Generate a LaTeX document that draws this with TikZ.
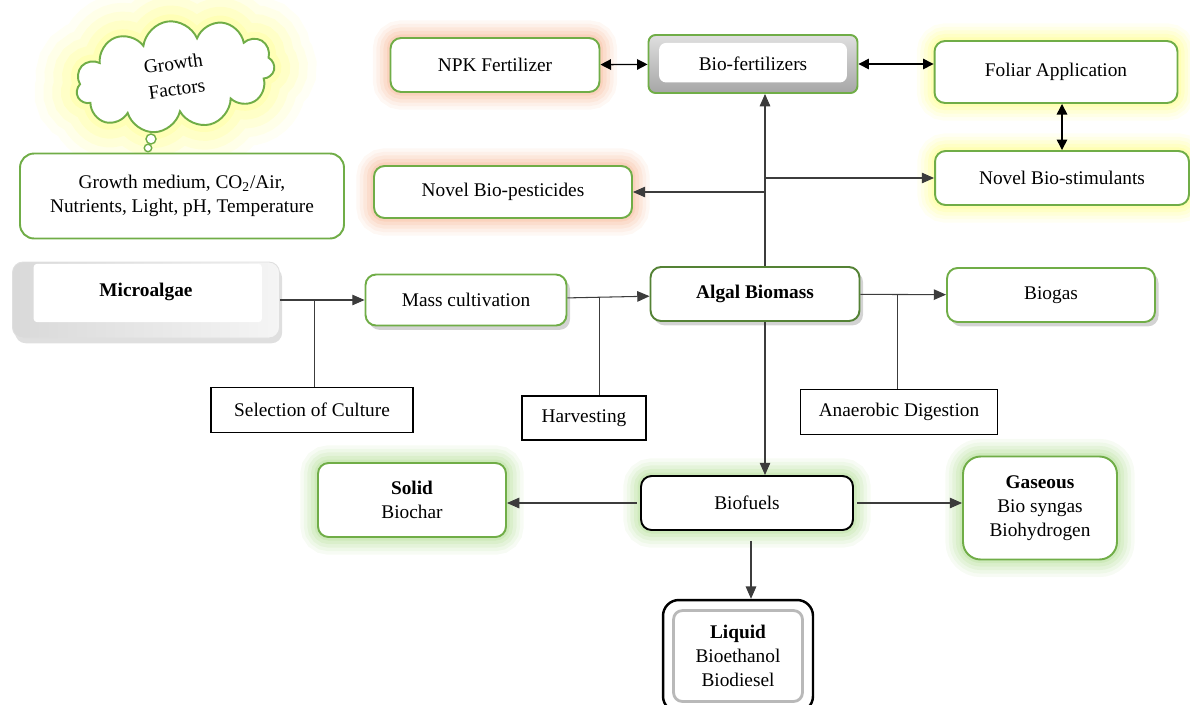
\documentclass[tikz,border=0pt]{standalone}
\usepackage{fontspec}
\setmainfont{Liberation Serif}
\usetikzlibrary{arrows.meta,positioning,shapes.symbols,shadows,calc}
\definecolor{leafgreen}{RGB}{112,173,71}
\definecolor{glowyellow}{RGB}{255,255,80}
\definecolor{gloworange}{RGB}{244,150,100}
\definecolor{glowgreen}{RGB}{140,205,95}
\definecolor{linegray}{RGB}{60,60,60}

\begin{document}
\begin{tikzpicture}[
    x=0.02cm, y=-0.02cm,
    every node/.style={font=\fontsize{11pt}{13.6pt}\selectfont},
    gbox/.style={draw=leafgreen, line width=1.1pt, rounded corners=6pt, fill=white, align=center},
    sbox/.style={gbox, drop shadow={opacity=0.35, shadow xshift=2pt, shadow yshift=-2.5pt}},
    tbox/.style={draw=black, line width=0.6pt, fill=white, align=center},
    glow/.style={preaction={draw=#1, line width=20pt, draw opacity=0.07},
                 preaction={draw=#1, line width=16pt, draw opacity=0.08},
                 preaction={draw=#1, line width=12pt, draw opacity=0.1},
                 preaction={draw=#1, line width=8pt, draw opacity=0.12},
                 preaction={draw=#1, line width=4pt, draw opacity=0.15}},
    bigglow/.style={preaction={draw=#1, line width=48pt, draw opacity=0.06},
                    preaction={draw=#1, line width=38pt, draw opacity=0.08},
                    preaction={draw=#1, line width=28pt, draw opacity=0.1},
                    preaction={draw=#1, line width=18pt, draw opacity=0.12},
                    preaction={draw=#1, line width=8pt, draw opacity=0.15}},
    btn/.style={draw=leafgreen, line width=1.1pt, rounded corners=4pt, top color=gray!25, bottom color=gray!70, align=center,
                path picture={\fill[white] ($(path picture bounding box.south west)+(6pt,6pt)$) rectangle ($(path picture bounding box.north east)+(-6pt,-4.5pt)$);}},
    bevel/.style={draw=gray!25, line width=0.5pt, rounded corners=6pt, left color=gray!30, right color=gray!8, align=center,
                  drop shadow={opacity=0.25, shadow xshift=1.5pt, shadow yshift=-3pt},
                  path picture={\fill[white, rounded corners=2pt] ($(path picture bounding box.south west)+(12pt,9pt)$) rectangle ($(path picture bounding box.north east)+(-10pt,-1pt)$);}},
    dbox/.style={draw=black, line width=1.4pt, rounded corners=9pt, fill=white, align=center,
                 path picture={\draw[gray!55, line width=1.6pt, rounded corners=5pt] ($(path picture bounding box.south west)+(6pt,6pt)$) rectangle ($(path picture bounding box.north east)+(-6pt,-6pt)$);}},
    arr/.style={-{Triangle[length=7pt,width=6pt]}, draw=linegray, line width=0.6pt},
    dbl/.style={{Triangle[length=6pt,width=6pt]}-{Triangle[length=6pt,width=6pt]}, line width=0.8pt},
    feed/.style={draw=linegray, line width=0.6pt}
  ]
  \useasboundingbox (0,0) rectangle (1190,704);

  % growth factors
  \node[cloud, cloud puffs=11, aspect=1.7, draw=leafgreen, line width=1.1pt, fill=white, minimum width=4cm, minimum height=2.2cm, rotate=8, align=center, bigglow=glowyellow] (gf) at (175,76) {Growth\\[1pt]Factors};
  \node[circle, draw=leafgreen, fill=white, line width=0.8pt, minimum size=0.2cm, inner sep=0pt] (bub1) at (151,139) {};
  \node[circle, draw=leafgreen, fill=white, line width=0.8pt, minimum size=0.15cm, inner sep=0pt] (bub2) at (148,148) {};
  \node[gbox, rounded corners=8pt, minimum width=6.48cm, minimum height=1.7cm] (medium) at (182,196) {Growth medium, CO\textsubscript{2}/Air,\\Nutrients, Light, pH, Temperature};

  % applications
  \node[gbox, glow=gloworange, minimum width=4.18cm, minimum height=1.08cm] (npk) at (495,65) {NPK Fertilizer};
  \node[btn, minimum width=4.18cm, minimum height=1.16cm] (biofert) at (753,64) {Bio-fertilizers};
  \node[gbox, glow=glowyellow, minimum width=4.86cm, minimum height=1.24cm] (foliar) at (1056,72) {Foliar Application};
  \node[gbox, glow=glowyellow, minimum width=5.08cm, minimum height=1.08cm] (stim) at (1062,178) {Novel Bio-stimulants};
  \node[gbox, glow=gloworange, minimum width=5.16cm, minimum height=1.04cm] (pest) at (503,192) {Novel Bio-pesticides};

  % main line
  \node[bevel, minimum width=5.34cm, minimum height=1.52cm, text depth=0.4cm] (micro) at (146,300) {\textbf{Microalgae}};
  \node[sbox, minimum width=4.02cm, minimum height=1.02cm] (mass) at (466,300) {Mass cultivation};
  \node[sbox, draw=leafgreen!75!black, minimum width=4.18cm, minimum height=1.08cm] (algal) at (755,294) {\textbf{Algal Biomass}};
  \node[sbox, minimum width=4.16cm, minimum height=1.08cm] (biogas) at (1051,295) {Biogas};
  \node[tbox, minimum width=4.04cm, minimum height=0.9cm] (sel) at (312,410) {Selection of Culture};
  \node[tbox, minimum width=2.48cm, minimum height=0.88cm] (harv) at (584,418) {Harvesting};
  \node[tbox, minimum width=3.94cm, minimum height=0.9cm] (anaer) at (899,412) {Anaerobic Digestion};

  % biofuels
  \node[gbox, draw=black, glow=glowgreen, minimum width=4.24cm, minimum height=1.08cm] (biofuels) at (747,503) {Biofuels};
  \node[gbox, glow=glowgreen, minimum width=3.76cm, minimum height=1.48cm] (solid) at (412,500) {\textbf{Solid}\\Biochar};
  \node[gbox, glow=glowgreen, rounded corners=10pt, minimum width=3.08cm, minimum height=2.06cm] (gas) at (1040,508) {\textbf{Gaseous}\\Bio syngas\\Biohydrogen};
  \node[dbox, minimum width=3cm, minimum height=2.24cm] (liquid) at (738,656) {\textbf{Liquid}\\Bioethanol\\Biodiesel};

  % connectors
  \draw[arr] (micro) -- coordinate[pos=0.41] (sj) (mass);
  \draw[feed] (sj) -- (sj |- sel.north);
  \draw[arr] (mass) -- coordinate[pos=0.39] (hj) (algal);
  \draw[feed] (hj) -- (hj |- harv.north);
  \draw[arr] (algal) -- coordinate[pos=0.43] (aj) (biogas);
  \draw[feed] (aj) -- (aj |- anaer.north);

  \draw[arr] (algal.north) ++(10,0) coordinate (tk) -- (tk |- biofert.south);
  \draw[arr] (tk |- stim) -- (stim);
  \draw[arr] (tk |- pest) -- (pest);
  \draw[dbl] (npk) -- (biofert);
  \draw[dbl] (biofert.east) -- (biofert.east -| foliar.west);
  \draw[dbl] (foliar.south -| stim) -- (stim.north);

  \draw[arr] (algal.south) ++(10,0) coordinate (tb) -- (tb |- biofuels.north);
  \draw[arr, shorten <=2pt] (biofuels.west) -- (biofuels.west -| solid.east);
  \draw[arr, shorten <=2pt] (biofuels.east) -- (biofuels.east -| gas.west);
  \draw[arr] (biofuels.south) ++(4,10) coordinate (lq) -- (lq |- liquid.north);
\end{tikzpicture}
\end{document}
